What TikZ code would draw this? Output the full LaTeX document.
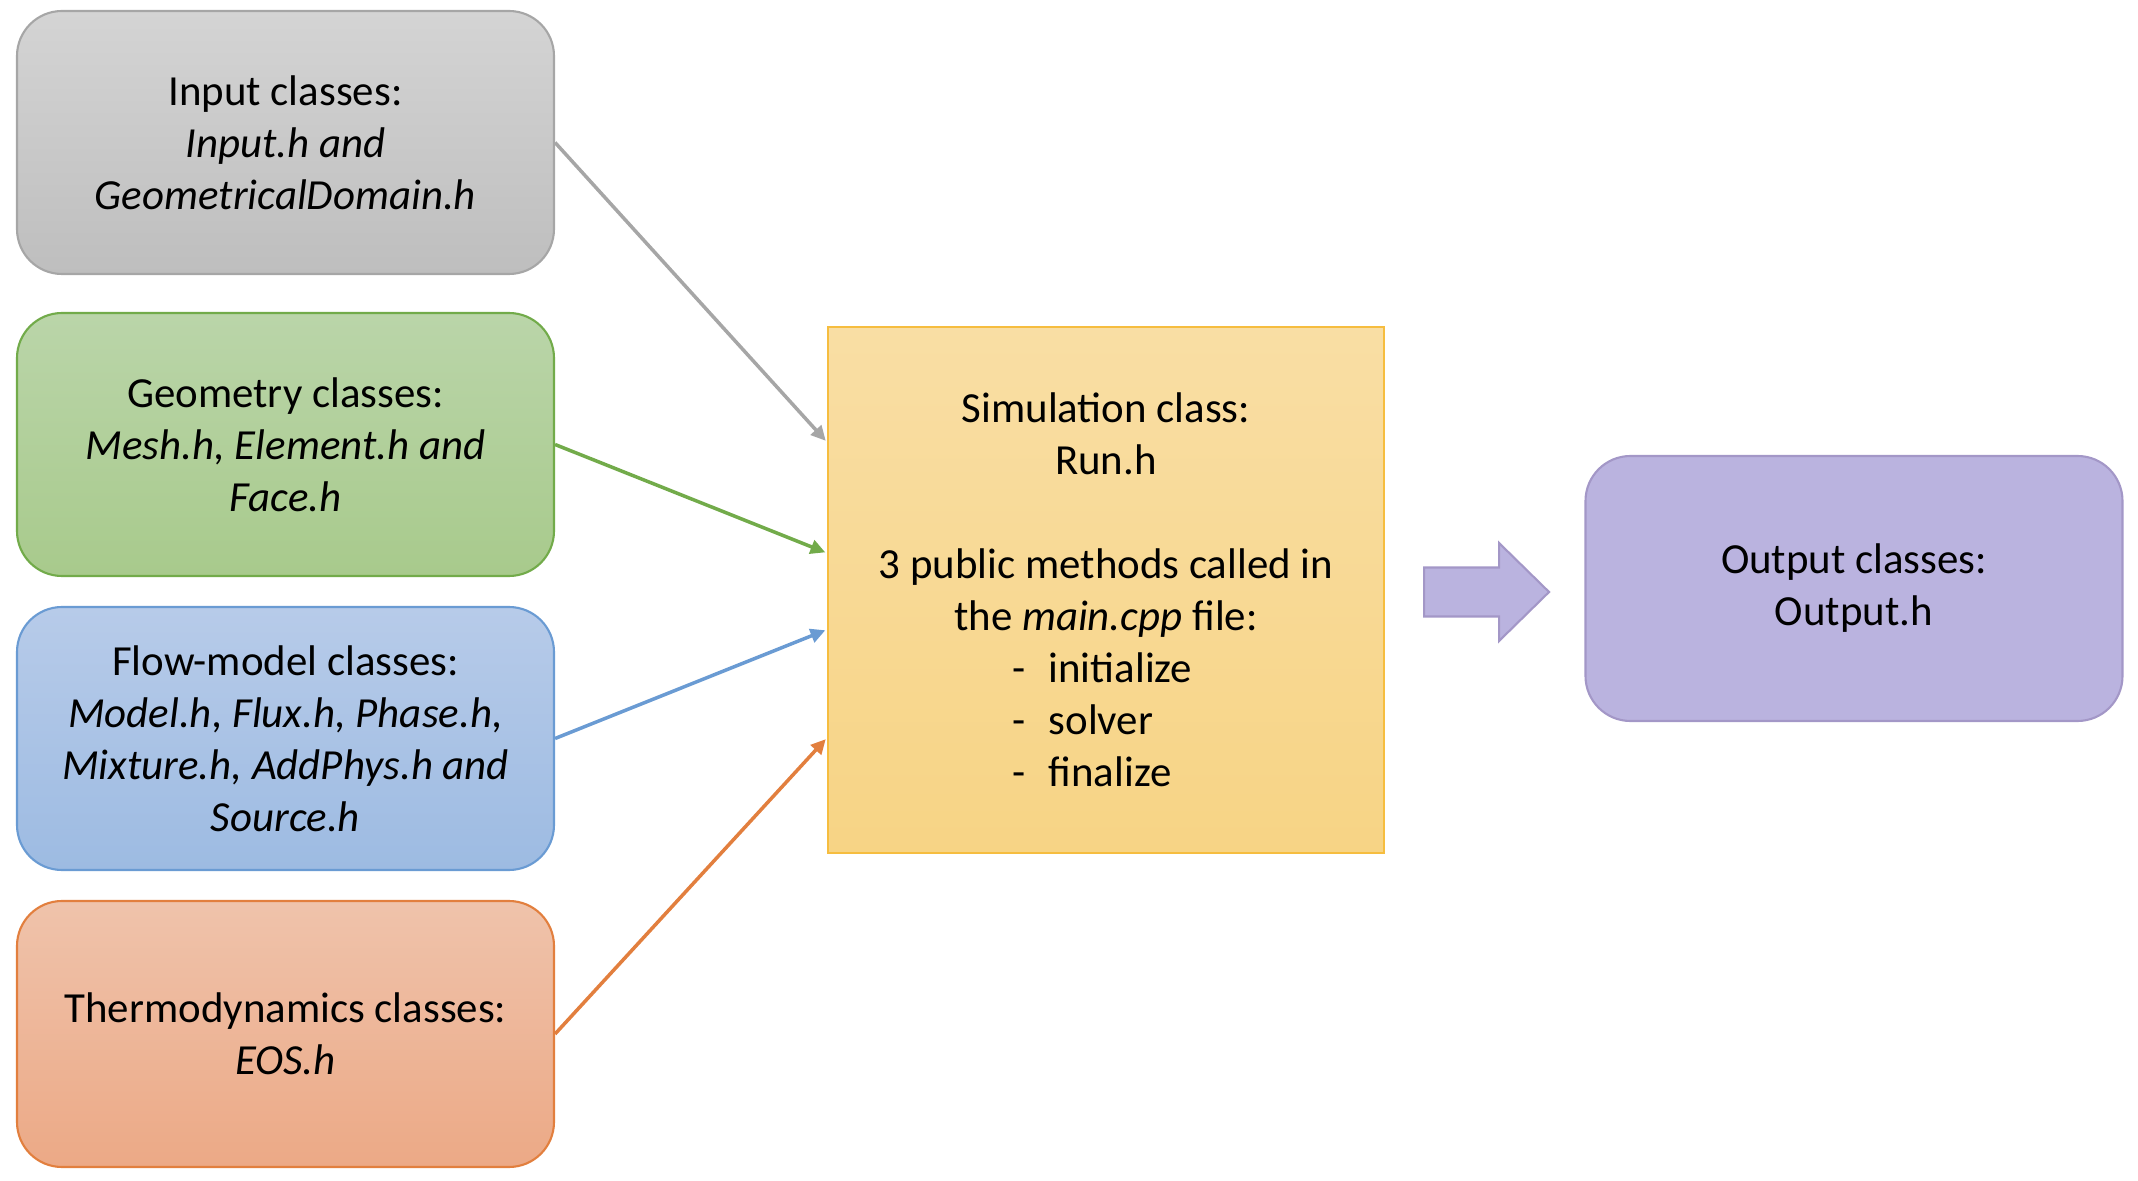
\documentclass[tikz,border=0pt]{standalone}
\usepackage{fontspec}
\setmainfont{Carlito}
\usetikzlibrary{arrows.meta,positioning,calc}

\definecolor{grayTop}{HTML}{D4D4D4}
\definecolor{grayBot}{HTML}{BEBEBE}
\definecolor{grayEdge}{HTML}{A6A6A6}
\definecolor{greenTop}{HTML}{BAD5A9}
\definecolor{greenBot}{HTML}{A8CA8C}
\definecolor{greenEdge}{HTML}{72AB4A}
\definecolor{blueTop}{HTML}{B7CBE9}
\definecolor{blueBot}{HTML}{9DBBE2}
\definecolor{blueEdge}{HTML}{6A9BD3}
\definecolor{orangeTop}{HTML}{EFC3AB}
\definecolor{orangeBot}{HTML}{ECA986}
\definecolor{orangeEdge}{HTML}{E27F3E}
\definecolor{yellowTop}{HTML}{F9DEA4}
\definecolor{yellowBot}{HTML}{F7D485}
\definecolor{yellowEdge}{HTML}{F6BD3F}
\definecolor{purpleFill}{HTML}{BAB3DF}
\definecolor{purpleEdge}{HTML}{A397C7}

\newcommand{\methoditem}[1]{\makebox[1.88cm][l]{-\hspace{0.55em}#1}}

\begin{document}
\begin{tikzpicture}[>=Latex,
  txt/.style={align=center,font=\fontsize{12.2}{14.8}\selectfont},
  cls/.style={txt,rounded corners=0.45cm,line width=0.6pt,
    minimum width=5.37cm,minimum height=2.63cm},
  feed/.style={->,line width=1pt,shorten >=0.5pt,
    >={Triangle[length=4.2pt,width=4pt]}}]
  \useasboundingbox (0,0) rectangle (21.38,11.80);

  \node[cls,draw=grayEdge,top color=grayTop,bottom color=grayBot] (inp) at (2.855,10.375)
    {Input classes:\\\textit{Input.h and}\\\textit{GeometricalDomain.h}};
  \node[cls,draw=greenEdge,top color=greenTop,bottom color=greenBot] (geo) at (2.855,7.355)
    {Geometry classes:\\\textit{Mesh.h, Element.h and}\\\textit{Face.h}};
  \node[cls,draw=blueEdge,top color=blueTop,bottom color=blueBot] (flow) at (2.855,4.415)
    {Flow-model classes:\\\textit{Model.h, Flux.h, Phase.h,}\\\textit{Mixture.h, AddPhys.h and}\\\textit{Source.h}};
  \node[cls,draw=orangeEdge,top color=orangeTop,bottom color=orangeBot,
    minimum height=2.66cm] (thermo) at (2.855,1.46)
    {Thermodynamics classes:\\\textit{EOS.h}};

  \node[txt,draw=yellowEdge,line width=0.6pt,top color=yellowTop,bottom color=yellowBot,
    minimum width=5.56cm,minimum height=5.26cm] (sim) at (11.06,5.90)
    {Simulation class:\\Run.h\\[14.8pt]3 public methods called in\\the \textit{main.cpp} file:\\
     \methoditem{initialize}\\\methoditem{solver}\\\methoditem{finalize}};

  \node[cls,draw=purpleEdge,fill=purpleFill,minimum height=2.65cm] (out) at (18.54,5.915)
    {Output classes:\\Output.h};

  % inputs into the simulation box
  \foreach \src/\pos/\col in {inp/0.22/grayEdge,geo/0.43/greenEdge,
                              flow/0.575/blueEdge,thermo/0.78/orangeEdge}
    \draw[feed,\col] (\src.east) -- ($(sim.north west)!\pos!(sim.south west)$);

  % block arrow towards the output
  \coordinate (ba) at ($(sim.east)+(0.39,-0.02)$);
  \draw[purpleEdge,fill=purpleFill,line width=0.6pt]
    ($(ba)+(0,-0.245)$) -- ++(0.75,0) -- ++(0,-0.245) -- ++(0.5,0.49)
    -- ++(-0.5,0.49) -- ++(0,-0.245) -- ++(-0.75,0) -- cycle;
\end{tikzpicture}
\end{document}
